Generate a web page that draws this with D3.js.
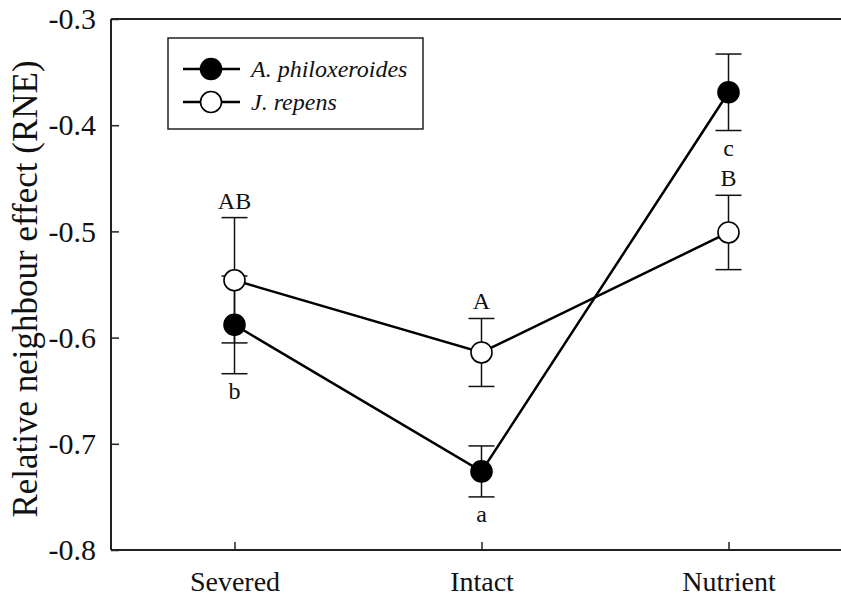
<!DOCTYPE html>
<html><head><meta charset="utf-8">
<script src="https://cdn.jsdelivr.net/npm/d3@7"></script>
<style>body{margin:0;background:#fff;} svg text{font-family:"Liberation Serif","Times New Roman","DejaVu Serif",serif !important;}</style>
</head><body>
<svg id="c" width="841" height="596"></svg>
<script>
const categories = ["Severed", "Intact", "Nutrient"];
const seriesNames = ["A. philoxeroides", "J. repens"];
const philoMean = [-0.588, -0.726, -0.369];
const philoErr = [0.046, 0.024, 0.036];
const repensMean = [-0.546, -0.614, -0.501];
const repensErr = [0.059, 0.032, 0.035];
const philoLetters = ["b", "a", "c"];
const repensLetters = ["AB", "A", "B"];
const yTicks = [-0.8, -0.7, -0.6, -0.5, -0.4, -0.3];

const FONT = "Liberation Serif";
const svg = d3.select("#c").attr("font-family", FONT);
const pLeft = 111, pTop = 19, pBottom = 550, step = 247;
const x = d3.scalePoint().domain(categories).range([pLeft, pLeft + step * 3]).padding(0.5);
const y = d3.scaleLinear().domain([-0.8, -0.3]).range([pBottom, pTop]);

svg.append("line").attr("x1", pLeft).attr("x2", 841).attr("y1", pTop).attr("y2", pTop).attr("stroke", "#222").attr("stroke-width", 2);
const yAxis = svg.append("g").attr("transform", `translate(${pLeft},0)`)
  .call(d3.axisLeft(y).tickValues(yTicks).tickSize(-8).tickPadding(15).tickFormat(d => d.toFixed(1)));
const xAxis = svg.append("g").attr("transform", `translate(0,${pBottom})`)
  .call(d3.axisBottom(x).tickSize(-8).tickPadding(21));
[yAxis, xAxis].forEach(a => {
  a.attr("font-family", FONT);
  a.select(".domain").attr("stroke", "#222").attr("stroke-width", 2);
  a.selectAll(".tick line").attr("stroke", "#222").attr("stroke-width", 1.5);
  a.selectAll("text").attr("fill", "#111");
});
yAxis.selectAll("text").attr("font-size", 30);
xAxis.selectAll("text").attr("font-size", 28);
yAxis.select(".domain").attr("d", `M0,${pBottom}V${pTop}`);
xAxis.select(".domain").attr("d", `M${pLeft},0H841`);

svg.append("text").attr("transform", `translate(37,289) rotate(-90)`)
  .attr("text-anchor", "middle").attr("font-size", 35).attr("fill", "#111")
  .text("Relative neighbour effect (RNE)");

const series = [
  {mean: philoMean, err: philoErr, fill: "#000", letters: philoLetters, below: true},
  {mean: repensMean, err: repensErr, fill: "#fff", letters: repensLetters, below: false}
];
const line = d3.line().x((d, i) => x(categories[i])).y(d => y(d));
const capW = 13;
series.forEach(s => {
  const g = svg.append("g");
  s.mean.forEach((m, i) => {
    const cx = x(categories[i]);
    g.append("line").attr("x1", cx).attr("x2", cx).attr("y1", y(m - s.err[i])).attr("y2", y(m + s.err[i])).attr("stroke", "#111").attr("stroke-width", 1.5);
    [m - s.err[i], m + s.err[i]].forEach(v => g.append("line").attr("x1", cx - capW).attr("x2", cx + capW).attr("y1", y(v)).attr("y2", y(v)).attr("stroke", "#111").attr("stroke-width", 1.5));
  });
});
series.forEach(s => {
  svg.append("path").datum(s.mean).attr("d", line).attr("fill", "none").attr("stroke", "#000").attr("stroke-width", 2.5);
});
series.forEach(s => {
  svg.append("g").selectAll("circle").data(s.mean).join("circle")
    .attr("cx", (d, i) => x(categories[i])).attr("cy", d => y(d)).attr("r", 10.5)
    .attr("fill", s.fill).attr("stroke", "#000").attr("stroke-width", 1.6);
  svg.append("g").selectAll("text").data(s.mean).join("text")
    .attr("x", (d, i) => x(categories[i]))
    .attr("y", (d, i) => s.below ? y(d - s.err[i]) + 25 : y(d + s.err[i]) - 9)
    .attr("text-anchor", "middle").attr("font-size", 24).attr("fill", "#111")
    .text((d, i) => s.letters[i]);
});

const lg = svg.append("g");
lg.append("rect").attr("x", 168).attr("y", 38).attr("width", 255).attr("height", 91)
  .attr("fill", "#fff").attr("stroke", "#222").attr("stroke-width", 1.5);
series.forEach((s, i) => {
  const ly = 69 + i * 33;
  lg.append("line").attr("x1", 183).attr("x2", 240).attr("y1", ly).attr("y2", ly).attr("stroke", "#000").attr("stroke-width", 2.5);
  lg.append("circle").attr("cx", 211).attr("cy", ly).attr("r", 10.5).attr("fill", s.fill).attr("stroke", "#000").attr("stroke-width", 1.6);
  lg.append("text").attr("x", 251).attr("y", ly + 8).attr("font-size", 24).attr("font-style", "italic").attr("fill", "#111").text(seriesNames[i]);
});
</script>
</body></html>
